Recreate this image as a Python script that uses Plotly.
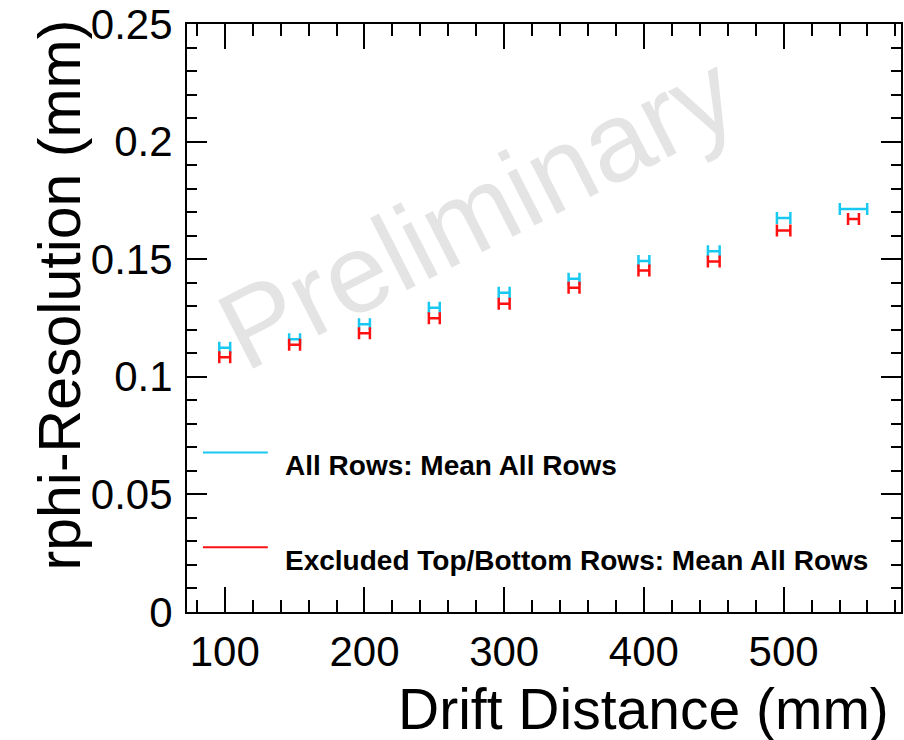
import plotly.graph_objects as go

# Drift distance bins (mm)
drift = [100, 150, 200, 250, 300, 350, 400, 450, 500, 550]

# rphi resolution (mm) for all pad rows
res_all = [0.1124, 0.1160, 0.1223, 0.1294, 0.1357, 0.1417, 0.1492, 0.1534, 0.1675, 0.1713]
drift_err_all = [3.9, 3.9, 3.9, 3.9, 3.9, 3.9, 3.9, 4.2, 4.8, 9.8]

# rphi resolution (mm) with top/bottom rows excluded
res_excl = [0.1083, 0.1136, 0.1185, 0.1249, 0.1311, 0.1379, 0.1452, 0.1490, 0.1622, 0.1671]
drift_err_excl = [3.9, 3.9, 3.9, 3.9, 3.9, 3.9, 3.9, 4.2, 4.8, 3.9]

x_ticks = [100, 200, 300, 400, 500]
y_ticks = [0, 0.05, 0.1, 0.15, 0.2, 0.25]
y_tick_text = ["0", "0.05", "0.1", "0.15", "0.2", "0.25"]

label_all = "All Rows: Mean All Rows"
label_excl = "Excluded Top/Bottom Rows: Mean All Rows"

CYAN = "#19c8f0"
RED = "#ff1010"
FONT = "Liberation Sans, Arial, Helvetica, sans-serif"

W, H = 904, 740
L, R, T, B = 187, 903, 22, 612  # frame edges in pixels


def px(x):
    return (x - L) / (R - L)


def py(y):
    return (B - y) / (B - T)


fig = go.Figure()

for name, yv, xe, col in [
    (label_all, res_all, drift_err_all, CYAN),
    (label_excl, res_excl, drift_err_excl, RED),
]:
    fig.add_trace(go.Scatter(
        x=drift, y=yv, mode="markers", name=name,
        marker=dict(size=1, color=col, opacity=0),
        error_x=dict(type="data", array=xe, visible=True,
                     color=col, thickness=2.5, width=6),
        showlegend=False, hoverinfo="x+y",
    ))

axis_common = dict(
    showline=True, linecolor="black", linewidth=2,
    mirror="allticks", ticks="inside", tickcolor="black", tickwidth=2,
    showgrid=False, zeroline=False, ticklabeloverflow="allow",
    tickfont=dict(family=FONT, size=42, color="black"),
)

fig.update_xaxes(
    range=[73, 584], tickvals=x_ticks, ticklen=25,
    minor=dict(dtick=20, tick0=0, ticks="inside", ticklen=12,
               tickwidth=2, tickcolor="black", showgrid=False),
    ticklabelstandoff=2,
    **axis_common,
)
fig.update_yaxes(
    range=[-0.00002, 0.25002], tickvals=y_ticks, ticktext=y_tick_text, ticklen=20,
    minor=dict(dtick=0.01, tick0=0, ticks="inside", ticklen=10,
               tickwidth=2, tickcolor="black", showgrid=False),
    ticklabelstandoff=4,
    **axis_common,
)

annotations = [
    # watermark
    dict(text="Preliminary", x=px(478), y=py(210), xref="paper", yref="paper",
         xanchor="center", yanchor="middle",
         showarrow=False, textangle=-27,
         font=dict(family=FONT, size=112, color="rgba(0,0,0,0.105)")),
    # axis titles
    dict(text="Drift Distance (mm)", x=px(893), y=py(709), xref="paper", yref="paper",
         xanchor="right", yanchor="middle", showarrow=False,
         font=dict(family=FONT, size=57, color="black")),
    dict(text="rphi-Resolution (mm)", x=px(60), y=py(294), xref="paper", yref="paper",
         xanchor="center", yanchor="middle", showarrow=False, textangle=-90,
         font=dict(family=FONT, size=59, color="black")),
    # legend entries
    dict(text="<b>" + label_all + "</b>", x=px(283), y=py(465), xref="paper", yref="paper",
         xanchor="left", yanchor="middle", showarrow=False,
         font=dict(family=FONT, size=28, color="black")),
    dict(text="<b>" + label_excl + "</b>", x=px(283), y=py(560), xref="paper", yref="paper",
         xanchor="left", yanchor="middle", showarrow=False,
         font=dict(family=FONT, size=28, color="black")),
]

shapes = [
    dict(type="line", xref="paper", yref="paper", x0=px(203), x1=px(268),
         y0=py(452), y1=py(452), line=dict(color=CYAN, width=2)),
    dict(type="line", xref="paper", yref="paper", x0=px(203), x1=px(268),
         y0=py(547), y1=py(547), line=dict(color=RED, width=2)),
]

fig.update_layout(
    width=W, height=H,
    margin=dict(l=L, r=W - R, t=T, b=H - B, pad=0),
    paper_bgcolor="white", plot_bgcolor="white",
    annotations=annotations, shapes=shapes,
    showlegend=False,
)

fig.write_html("out.html")
